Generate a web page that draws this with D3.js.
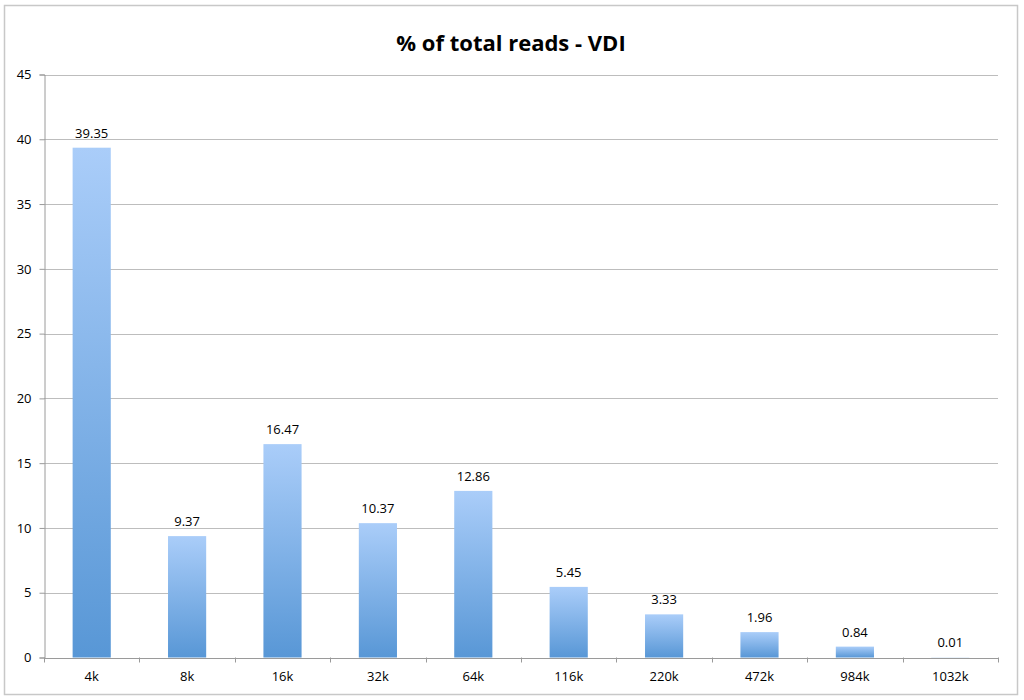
<!DOCTYPE html>
<html><head><meta charset="utf-8">
<script src="https://cdn.jsdelivr.net/npm/d3@7/dist/d3.min.js"></script>
<style>body{margin:0;background:#fff;}svg{display:block;font-family:"Open Sans","DejaVu Sans",sans-serif;}</style>
</head><body>
<svg id="c" width="1024" height="700"></svg>
<script>
const categories = ["4k","8k","16k","32k","64k","116k","220k","472k","984k","1032k"];
const values = [39.35,9.37,16.47,10.37,12.86,5.45,3.33,1.96,0.84,0.01];
const yTicks = [0,5,10,15,20,25,30,35,40,45];
const title = "% of total reads - VDI";

const svg = d3.select("#c");
const m = {left:44, right:998, top:74.5, bottom:657.5};
const defs = svg.append("defs");
const g = defs.append("linearGradient").attr("id","bg").attr("x1",0).attr("y1",0).attr("x2",0).attr("y2",1);
g.append("stop").attr("offset","0%").attr("stop-color","#aacdf9");
g.append("stop").attr("offset","100%").attr("stop-color","#5897d6");

svg.append("rect").attr("x",4.5).attr("y",5.5).attr("width",1013).attr("height",689)
  .attr("fill","#fff").attr("stroke","#c8c8c8").attr("stroke-width",1.5);

svg.append("text").attr("x",511).attr("y",51).attr("text-anchor","middle")
  .attr("font-size",22).attr("font-weight","bold").attr("fill","#000").text(title);

const x = d3.scaleBand().domain(categories).range([m.left,m.right]).paddingInner(0.6).paddingOuter(0.3);
const xb = d3.scaleBand().domain(categories).range([m.left,m.right]);
const y = d3.scaleLinear().domain([0,45]).range([m.bottom,m.top]);

// gridlines
svg.append("g").selectAll("line").data(yTicks.filter(d=>d>0)).join("line")
  .attr("x1",m.left).attr("x2",m.right).attr("y1",d=>Math.round(y(d))+0.5).attr("y2",d=>Math.round(y(d))+0.5)
  .attr("stroke","#bdbdbd").attr("stroke-width",1.2);

// y axis
const ya = svg.append("g").attr("transform",`translate(${m.left+0.5},0)`)
  .call(d3.axisLeft(y).tickValues(yTicks).tickSize(5).tickPadding(8));
ya.select(".domain").attr("stroke","#9a9a9a");
ya.selectAll(".tick line").attr("stroke","#9a9a9a");
ya.selectAll(".tick text").attr("font-size",13).attr("fill","#000").attr("font-family","'Open Sans',sans-serif");

// bars
svg.append("g").selectAll("rect").data(values).join("rect")
  .attr("x",(d,i)=>x(categories[i])).attr("width",x.bandwidth())
  .attr("y",d=>y(d)).attr("height",d=>m.bottom-y(d)).attr("fill","url(#bg)");

// x axis
const xa = svg.append("g").attr("transform",`translate(0,${m.bottom+0.5})`)
  .call(d3.axisBottom(xb).tickSize(0).tickPadding(14));
xa.select(".domain").attr("stroke","#9a9a9a");
xa.selectAll(".tick text").attr("font-size",13).attr("fill","#000").attr("font-family","'Open Sans',sans-serif");
// boundary ticks
const bounds = categories.map(c=>xb(c)).concat([m.right]);
svg.append("g").selectAll("line").data(bounds).join("line")
  .attr("x1",d=>Math.round(d)+0.5).attr("x2",d=>Math.round(d)+0.5)
  .attr("y1",m.bottom).attr("y2",m.bottom+5).attr("stroke","#9a9a9a");

// labels
svg.append("g").selectAll("text").data(values).join("text")
  .attr("x",(d,i)=>x(categories[i])+x.bandwidth()/2).attr("y",d=>y(d)-10)
  .attr("text-anchor","middle").attr("font-size",13).attr("fill","#000")
  .text(d=>d.toFixed(2));
</script>
</body></html>
